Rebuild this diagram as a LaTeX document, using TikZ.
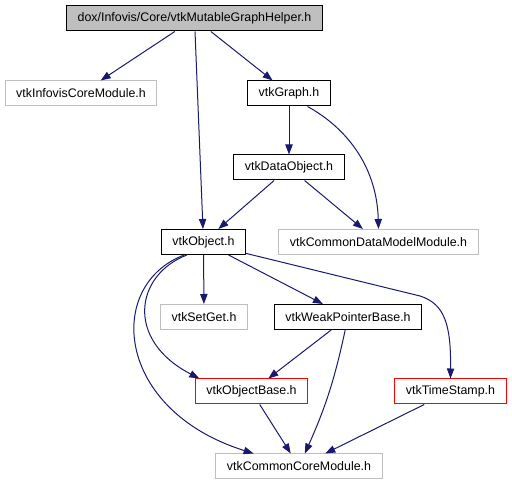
\documentclass[tikz,border=0pt]{standalone}
\usepackage{fontspec}
\setmainfont{Liberation Sans}
\usepackage{tikz}
\usetikzlibrary{arrows.meta}
\definecolor{edgeblue}{HTML}{191970}
\definecolor{lgray}{HTML}{BFBFBF}

\begin{document}
\begin{tikzpicture}[x=0.75pt,y=-0.75pt,
  file/.style={draw,line width=0.75pt,minimum height=18.75pt,inner xsep=8.3pt,inner ysep=0pt,
    font=\fontsize{9.3}{11}\selectfont},
  topfile/.style={file,fill=lgray,draw=black},
  greyfile/.style={file,draw=lgray},
  blackfile/.style={file,draw=black},
  redfile/.style={file,draw=red},
  dep/.style={draw=edgeblue,line width=0.75pt,-{Triangle[length=7.5pt,width=5.5pt]},fill=none}]
\useasboundingbox (0,0) rectangle (512,485);
\node[topfile] (helper) at (194.5,18.5){dox/Infovis/Core/vtkMutableGraphHelper.h};
\node[greyfile] (infocore) at (81,93.5){vtkInfovisCoreModule.h};
\node[blackfile] (graph) at (289,93.5){vtkGraph.h};
\node[blackfile] (dataobj) at (289,167.5){vtkDataObject.h};
\node[blackfile] (object) at (203.5,242){vtkObject.h};
\node[greyfile] (dmmodule) at (378.5,242){vtkCommonDataModelModule.h};
\node[greyfile] (setget) at (204,317){vtkSetGet.h};
\node[blackfile] (weakptr) at (348,317){vtkWeakPointerBase.h};
\node[redfile] (objbase) at (251.5,391.5){vtkObjectBase.h};
\node[redfile] (tstamp) at (450.5,391.5){vtkTimeStamp.h};
\node[greyfile] (coremodule) at (299,466.5){vtkCommonCoreModule.h};
\draw[dep] (helper) -- (infocore);
\draw[dep] (helper) -- (object);
\draw[dep] (helper) -- (graph);
\draw[dep] (graph) -- (dataobj);
\draw[dep] (graph.-35) .. controls (350,130) and (377,170) .. (dmmodule.north);
\draw[dep] (dataobj) -- (object);
\draw[dep] (dataobj) -- (dmmodule);
\draw[dep] (object) -- (setget);
\draw[dep] (object) -- (weakptr);
\draw[dep] (object.-15) -- (420,296) .. controls (445,304) and (451,325) .. (tstamp.north);
\draw[dep] (object.-142) .. controls (135,275) and (125,340) .. (objbase.166);
\draw[dep] (object.-146) .. controls (105,285) and (115,410) .. (coremodule.164);
\draw[dep] (weakptr) -- (objbase);
\draw[dep] (weakptr) to[bend left=6] (coremodule);
\draw[dep] (objbase) -- (coremodule);
\draw[dep] (tstamp) -- (coremodule);
\end{tikzpicture}
\end{document}
